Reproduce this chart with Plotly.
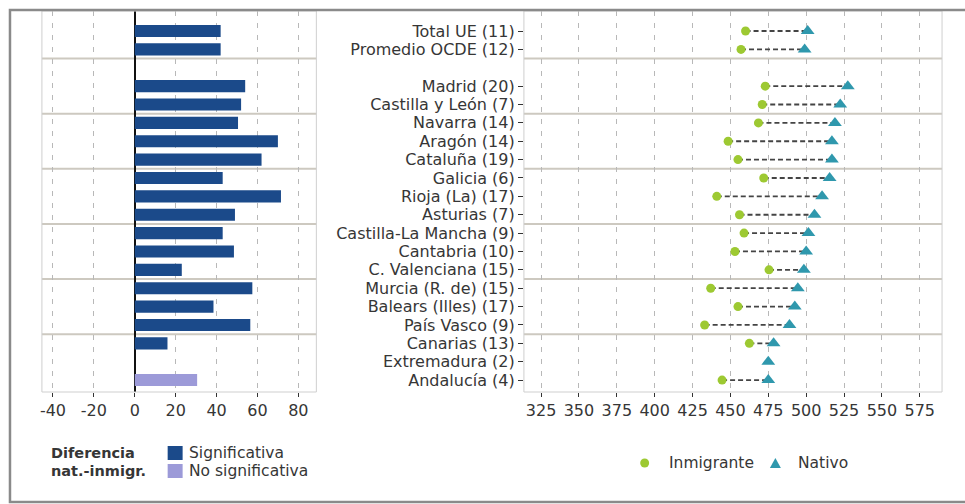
import plotly.graph_objects as go

# ---- data -------------------------------------------------------------
regiones = [
    "Total UE (11)", "Promedio OCDE (12)",
    "Madrid (20)", "Castilla y León (7)", "Navarra (14)", "Aragón (14)",
    "Cataluña (19)", "Galicia (6)", "Rioja (La) (17)", "Asturias (7)",
    "Castilla-La Mancha (9)", "Cantabria (10)", "C. Valenciana (15)",
    "Murcia (R. de) (15)", "Balears (Illes) (17)", "País Vasco (9)",
    "Canarias (13)", "Extremadura (2)", "Andalucía (4)",
]
inmigrante = [460, 457, 473, 471, 468.5, 448.5, 455, 472, 441, 456,
              459, 453, 475.5, 437, 455, 433, 462.5, None, 444.5]
nativo = [501, 499, 527.5, 522.5, 519, 517, 517, 515.5, 510.5, 505.5,
          501.5, 500, 498.5, 494.5, 492.5, 489, 478.5, 475, 475]
diferencia = [42, 42, 54, 52, 50.5, 70, 62, 43, 71.5, 49,
              43, 48.5, 23, 57.5, 38.5, 56.5, 16, None, 30.5]
significativa = [True] * 17 + [True, False]

ticks_dif = [-40, -20, 0, 20, 40, 60, 80]
ticks_dif_txt = ["-40", "-20", "0", "20", "40", "60", "80"]
ticks_pts = [325, 350, 375, 400, 425, 450, 475, 500, 525, 550, 575]

# row slots: the two reference rows, an empty slot, then the regions
pos = [0, 1] + list(range(3, 3 + len(regiones) - 2))
separadores = [1.5, 4.5, 7.5, 10.5, 13.5, 16.5]

# ---- style -----------------------------------------------------------
W, H = 965, 504
C_SIG = "#1b4a8a"
C_NOSIG = "#9c9ad8"
C_INM = "#9dc932"
C_NAT = "#2f98ad"
C_GRID = "#b8b8b8"
C_SEP = "#cdc9c0"
C_TXT = "#363636"
FONT = "DejaVu Sans"


def px(x):
    return x / W


def py(y):
    return 1 - y / H


y_dom = [py(392), py(11)]
y_rng = [19.65, -1.09]

fig = go.Figure()

# difference bars
sx = [d for d, s in zip(diferencia, significativa) if s and d is not None]
sy = [p for d, s, p in zip(diferencia, significativa, pos) if s and d is not None]
nx = [d for d, s in zip(diferencia, significativa) if not s and d is not None]
ny = [p for d, s, p in zip(diferencia, significativa, pos) if not s and d is not None]
fig.add_trace(go.Bar(x=sx, y=sy, orientation="h", width=0.66,
                     marker=dict(color=C_SIG, line=dict(width=0)),
                     name="Significativa", showlegend=False,
                     xaxis="x", yaxis="y"))
fig.add_trace(go.Bar(x=nx, y=ny, orientation="h", width=0.66,
                     marker=dict(color=C_NOSIG, line=dict(width=0)),
                     name="No significativa", showlegend=False,
                     xaxis="x", yaxis="y"))

# dashed connectors between immigrant and native scores
lx, ly = [], []
for a, b, p in zip(inmigrante, nativo, pos):
    if a is None or b is None:
        continue
    lx += [a, b, None]
    ly += [p, p, None]
fig.add_trace(go.Scatter(x=lx, y=ly, mode="lines",
                         line=dict(color="#444444", width=1.8, dash="5px,3px"),
                         showlegend=False, hoverinfo="skip",
                         xaxis="x2", yaxis="y2"))
fig.add_trace(go.Scatter(x=inmigrante, y=pos, mode="markers", name="Inmigrante",
                         marker=dict(symbol="circle", size=9, color=C_INM),
                         showlegend=False, xaxis="x2", yaxis="y2"))
fig.add_trace(go.Scatter(x=nativo, y=pos, mode="markers", name="Nativo",
                         marker=dict(symbol="triangle-up", size=12, color=C_NAT),
                         showlegend=False, xaxis="x2", yaxis="y2"))

axis_common = dict(
    showgrid=True, gridcolor=C_GRID, gridwidth=1, griddash="5px,7px",
    ticks="outside", ticklen=4, tickwidth=1, tickcolor="#333333",
    showline=False, tickfont=dict(family=FONT, size=16, color=C_TXT),
)

fig.update_layout(
    width=W, height=H,
    margin=dict(l=0, r=0, t=0, b=0),
    paper_bgcolor="white", plot_bgcolor="white",
    barmode="overlay",
    font=dict(family=FONT, size=16, color=C_TXT),
    xaxis=dict(domain=[px(40), px(315)], range=[-45.4, 88.8],
               tickvals=ticks_dif, ticktext=ticks_dif_txt,
               zeroline=True, zerolinecolor="#111111", zerolinewidth=2,
               anchor="y", **axis_common),
    yaxis=dict(domain=y_dom, range=y_rng, showticklabels=False,
               showgrid=False, zeroline=False, anchor="x"),
    xaxis2=dict(domain=[px(523), px(942)], range=[313.7, 589.7],
                tickvals=ticks_pts, zeroline=False, anchor="y2",
                **axis_common),
    yaxis2=dict(domain=y_dom, range=y_rng, tickvals=pos, ticktext=regiones,
                showgrid=False, zeroline=False, ticks="outside", ticklen=5,
                tickcolor="#333333", tickfont=dict(family=FONT, size=16,
                                                    color=C_TXT),
                anchor="x2"),
)

shapes = []
# group separators in both panels
for xr, yr in (("x domain", "y"), ("x2 domain", "y2")):
    for s in separadores:
        shapes.append(dict(type="line", xref=xr, yref=yr, x0=0, x1=1,
                           y0=s, y1=s, line=dict(color=C_SEP, width=2),
                           layer="below"))
# panel borders
for xr, yr in (("x domain", "y domain"), ("x2 domain", "y2 domain")):
    shapes.append(dict(type="rect", xref=xr, yref=yr, x0=0, x1=1, y0=0, y1=1,
                       line=dict(color="#cfcfcf", width=1)))
# outer frame
shapes.append(dict(type="rect", xref="paper", yref="paper",
                   x0=px(8), x1=px(968), y0=py(502), y1=py(10),
                   line=dict(color="#8a8a8a", width=2.5)))

# legend keys
shapes.append(dict(type="rect", xref="paper", yref="paper",
                   x0=px(166), x1=px(181), y0=py(460), y1=py(446),
                   fillcolor=C_SIG, line=dict(width=0)))
shapes.append(dict(type="rect", xref="paper", yref="paper",
                   x0=px(166), x1=px(181), y0=py(478), y1=py(464),
                   fillcolor=C_NOSIG, line=dict(width=0)))
shapes.append(dict(type="circle", xref="paper", yref="paper",
                   x0=px(639.5), x1=px(648.5), y0=py(467.5), y1=py(458.5),
                   fillcolor=C_INM, line=dict(width=0)))
shapes.append(dict(type="path", xref="paper", yref="paper",
                   path=f"M {px(769.5)},{py(468)} L {px(780.5)},{py(468)} "
                        f"L {px(775)},{py(458)} Z",
                   fillcolor=C_NAT, line=dict(width=0)))
fig.update_layout(shapes=shapes)

ann = []


def label(x, y, text, size=15.5, bold=False):
    ann.append(dict(xref="paper", yref="paper", x=px(x), y=py(y),
                    xanchor="left", yanchor="middle", showarrow=False,
                    text=f"<b>{text}</b>" if bold else text,
                    font=dict(family=FONT, size=size, color=C_TXT)))


label(47, 453, "Diferencia", size=14.5, bold=True)
label(47, 471, "nat.-inmigr.", size=14.5, bold=True)
label(185, 453, "Significativa")
label(185, 471, "No significativa")
label(666, 463, "Inmigrante")
label(796, 463, "Nativo")
fig.update_layout(annotations=ann)

fig.write_html("out.html")
